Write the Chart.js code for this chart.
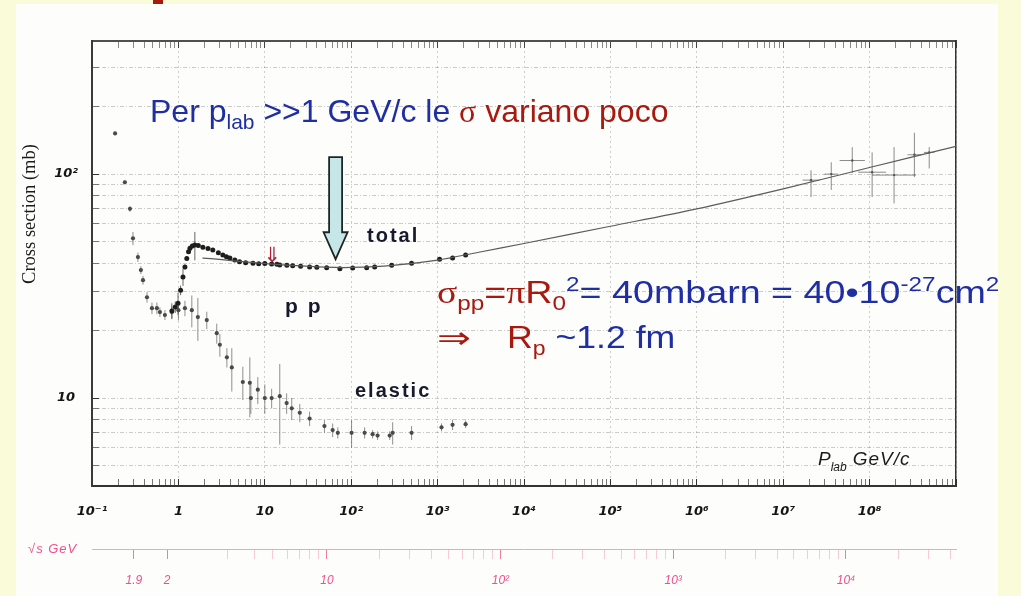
<!DOCTYPE html>
<html>
<head>
<meta charset="utf-8">
<script src="https://cdn.jsdelivr.net/npm/chart.js@4.4.1/dist/chart.umd.min.js"></script>
<style>
  html, body { margin: 0; padding: 0; width: 1021px; height: 596px; overflow: hidden; background: #f9fbd9; }
  #panel { position: absolute; left: 16px; top: 4px; width: 982px; height: 592px; background: #fdfdfb; }
  #tab { position: absolute; left: 153px; top: 0; width: 10px; height: 4px; background: #a8190f; }
  #wrap { position: absolute; left: 0; top: 0; width: 1021px; height: 596px; }
  svg { position: absolute; left: 0; top: 0; }
  svg text { white-space: pre; }
</style>
</head>
<body>
<div id="panel"></div>
<div id="tab"></div>
<div id="wrap"><canvas id="c" width="1021" height="596"></canvas></div>

<svg width="1021" height="596" font-family="Liberation Sans, Arial, sans-serif">
  <!-- headline -->
  <text x="150" y="122" font-size="32" fill="#1f2ea3">Per p<tspan font-size="21" dy="7">lab</tspan><tspan dy="-7"> &gt;&gt;1 GeV/c le </tspan><tspan fill="#a8190f" font-family="Liberation Serif">σ</tspan><tspan fill="#a8190f"> variano poco</tspan></text>

  <!-- proton size estimate -->
  <g transform="translate(437,303) scale(1.215,1)">
    <text x="0" y="0" font-size="31" fill="#1f2ea3"><tspan fill="#a8190f" font-family="Liberation Serif">σ</tspan><tspan fill="#a8190f" font-size="20" dy="7">pp</tspan><tspan fill="#a8190f" dy="-7">=</tspan><tspan fill="#a8190f" font-family="Liberation Serif">π</tspan><tspan fill="#a8190f">R</tspan><tspan fill="#a8190f" font-size="20" dy="7">0</tspan><tspan font-size="20" dy="-19">2</tspan><tspan dy="12">= 40mbarn = 40•10</tspan><tspan font-size="20" dy="-12">-27</tspan><tspan dy="12">cm</tspan><tspan font-size="20" dy="-12">2</tspan></text>
  </g>
  <g transform="translate(437,348) scale(1.35,1)">
    <text x="0" y="0" font-size="30" font-family="DejaVu Sans" fill="#a8190f">⇒</text>
  </g>
  <g transform="translate(507,348) scale(1.15,1)">
    <text x="0" y="0" font-size="31" fill="#1f2ea3"><tspan fill="#a8190f">R</tspan><tspan fill="#a8190f" font-size="20" dy="7">p</tspan><tspan dy="-7"> ~1.2 fm</tspan></text>
  </g>

  <!-- curve labels -->
  <text x="367" y="242" font-size="20" font-weight="bold" letter-spacing="2" fill="#171a2c">total</text>
  <text x="285" y="313" font-size="21" font-weight="bold" letter-spacing="2" fill="#171a2c">p p</text>
  <text x="355" y="397" font-size="20" font-weight="bold" letter-spacing="2" fill="#171a2c">elastic</text>
  <text x="272" y="262" font-size="21" text-anchor="middle" font-family="DejaVu Sans" fill="#b0203a">⇓</text>

  <!-- axis captions -->
  <text x="818" y="465" font-size="19" font-style="italic" fill="#1a1a1a">P<tspan font-size="12" dy="6">lab</tspan><tspan dy="-6" dx="6" letter-spacing="1">GeV/c</tspan></text>
  <text transform="translate(35,214) rotate(-90)" text-anchor="middle" font-family="Liberation Serif" font-size="18.5" fill="#1a1a1a">Cross section (mb)</text>
  <text x="28" y="553" font-size="13" font-style="italic" letter-spacing="1" fill="#f0508a">√s GeV</text>
</svg>

<script>
// ---- total cross section, accelerator data (p_lab in GeV/c, sigma in mb) ----
const totalP     = [0.84, 0.92, 0.99, 1.06, 1.13, 1.19, 1.25, 1.31, 1.36, 1.45, 1.55, 1.7, 1.92, 2.2, 2.5, 2.9, 3.27, 3.6, 3.94, 4.5, 5.1, 6.0, 7.3, 8.5, 10, 12, 13.8, 14.9, 18, 21, 26, 33, 40, 52, 74, 104, 151, 187, 294, 500, 1054, 1490, 2110];
const totalSigma = [24.5, 25.5, 26.5, 30.3, 34.7, 38.5, 42.0, 45.0, 46.7, 47.8, 48.2, 48.0, 47.2, 46.5, 45.8, 44.6, 43.5, 42.8, 42.2, 41.4, 40.6, 40.2, 40.0, 39.8, 39.9, 39.7, 39.6, 39.3, 39.2, 39.0, 38.8, 38.5, 38.4, 38.2, 37.8, 38.1, 38.2, 38.5, 39.2, 40.0, 41.7, 42.2, 43.5];
const totalErr   = [2.0, 1.5, 3.0, 1.5, 3.0, 1.0, 1.0, 1.0, 1.0, 1.0, 7.0, 1.0, 0.8, 0.8, 0.6, 0.6, 0.5, 0.5, 0.5, 0.5, 0.5, 0.4, 0.4, 0.4, 0.4, 0.4, 0.4, 0.4, 0.4, 0.4, 0.4, 0.6, 0.4, 0.4, 0.5, 0.5, 0.8, 0.5, 0.5, 0.5, 0.5, 0.5, 0.6];

// ---- elastic cross section ----
const elasticP     = [0.185, 0.24, 0.275, 0.298, 0.340, 0.368, 0.389, 0.433, 0.494, 0.564, 0.611, 0.698, 0.841, 1.0, 1.19, 1.43, 1.68, 2.13, 2.78, 3.02, 3.64, 4.15, 5.57, 6.71, 6.9, 8.3, 10, 12, 14.9, 17.9, 20.5, 25.4, 33, 49, 61, 70, 101, 143, 177, 202, 279, 302, 500, 1110, 1490, 2110];
const elasticSigma = [152, 92, 70, 51.7, 42.6, 37.3, 33.6, 28.2, 25.2, 25.2, 24.2, 23.5, 24.2, 24.7, 25.2, 24.7, 23.0, 22.3, 19.5, 17.3, 15.2, 13.7, 11.8, 11.7, 10.0, 10.9, 10.0, 10.0, 10.2, 9.5, 9.0, 8.6, 8.1, 7.5, 7.2, 7.0, 7.0, 7.0, 6.9, 6.8, 6.8, 7.0, 7.0, 7.4, 7.6, 7.65];
const elasticErr   = [1.5, 2.0, 2.0, 3.5, 2.0, 1.5, 1.5, 1.5, 1.5, 1.5, 1.2, 1.2, 1.5, 2.5, 2.0, 4.0, 5.0, 2.0, 2.0, 2.0, 1.5, 3.0, 2.0, 3.5, 1.5, 1.5, 1.5, 1.0, 4.0, 1.0, 1.0, 0.8, 0.6, 0.5, 0.5, 0.4, 1.0, 0.4, 0.3, 0.3, 0.3, 0.8, 0.5, 0.3, 0.4, 0.3];

// ---- cosmic-ray estimates of the total cross section ----
const cosmicP      = [2.1e7, 3.6e7, 6.3e7, 1.07e8, 1.92e8, 3.3e8, 4.9e8];
const cosmicSigma  = [94, 100, 115, 102, 99, 122, 125];
const cosmicErrLo  = [15, 15, 14, 23, 25, 25, 19];
const cosmicErrHi  = [10, 13, 17, 23, 33, 31, 7];
const cosmicXFactor = [1.25, 1.2, 1.4, 1.45, 1.8, 1.2, 1.15];

// ---- fit to the total cross section ----
const fitP     = [1.9, 3, 5, 10, 20, 50, 100, 300, 1000, 3000, 1e4, 1e5, 1e6, 1e7, 1e8, 1e9];
const fitSigma = [42.2, 41.6, 40.8, 39.9, 39.1, 38.4, 38.3, 39.1, 41.3, 44.8, 49, 58.5, 70, 86, 107, 133];

// ---- axis labels ----
const xMajorValues = [0.1, 1, 10, 100, 1e3, 1e4, 1e5, 1e6, 1e7, 1e8];
const xMajorLabels = ['10⁻¹', '1', '10', '10²', '10³', '10⁴', '10⁵', '10⁶', '10⁷', '10⁸'];
const yMajorValues = [10, 100];
const yMajorLabels = ['10', '10²'];
const sqrtsLabelValues = [1.9, 2, 10, 100, 1000, 10000];
const sqrtsLabels      = ['1.9', '2', '10', '10²', '10³', '10⁴'];

// ---- arrow marking the flat region ----
const arrowP = 66, arrowTipSigma = 41.7, arrowHeadSigma = 55, arrowTailSigma = 119;

const P_MIN = 0.1, P_MAX = 1e9, S_MIN = 4.05, S_MAX = 393;
const M_P = 0.938; // proton mass, GeV

// beam momentum on a fixed target that gives centre-of-mass energy rs
function pFromSqrtS(rs) {
  const E = (rs * rs - 2 * M_P * M_P) / (2 * M_P);
  return Math.sqrt(E * E - M_P * M_P);
}
function logTicks(lo, hi, mantissas) {
  const out = [];
  for (let e = Math.floor(Math.log10(lo)); e <= Math.ceil(Math.log10(hi)); e++) {
    for (const m of mantissas) {
      const v = m * Math.pow(10, e);
      if (v >= lo * (1 - 1e-9) && v <= hi * (1 + 1e-9)) out.push(v);
    }
  }
  return out;
}
const near = (a, b) => Math.abs(a / b - 1) < 1e-6;
const labelAt = (v, vals, labels) => { const k = vals.findIndex(m => near(v, m)); return k < 0 ? '' : labels[k]; };
const isDecade = v => Math.abs(Math.log10(v) - Math.round(Math.log10(v))) < 1e-6;

const ONE_TO_NINE = [1, 2, 3, 4, 5, 6, 7, 8, 9];
const xTickValues = logTicks(P_MIN, P_MAX, ONE_TO_NINE);
const yTickValues = logTicks(S_MIN, S_MAX, ONE_TO_NINE);
const sqrtsTickValues = [1.9].concat(logTicks(2, 1e5, ONE_TO_NINE).filter(rs => pFromSqrtS(rs) <= P_MAX));

const pts = (xs, ys) => xs.map((x, i) => ({ x, y: ys[i] }));
const tickFont = { family: 'DejaVu Sans', size: 13, weight: 'bold', style: 'italic' };

// vertical (and optional horizontal) error bars drawn through the chart scales
const errorBars = {
  id: 'errorBars',
  beforeDatasetsDraw(chart) {
    const { ctx, chartArea, scales: { x, y } } = chart;
    ctx.save();
    ctx.beginPath();
    ctx.rect(chartArea.left, chartArea.top, chartArea.right - chartArea.left, chartArea.bottom - chartArea.top);
    ctx.clip();
    chart.data.datasets.forEach(ds => {
      if (!ds.errLo) return;
      ctx.strokeStyle = ds.errColor;
      ctx.lineWidth = 1;
      ds.data.forEach((pt, i) => {
        const px = x.getPixelForValue(pt.x);
        const py = y.getPixelForValue(pt.y);
        ctx.beginPath();
        ctx.moveTo(px, y.getPixelForValue(pt.y - ds.errLo[i]));
        ctx.lineTo(px, y.getPixelForValue(pt.y + ds.errHi[i]));
        if (ds.xFactor) {
          ctx.moveTo(x.getPixelForValue(pt.x / ds.xFactor[i]), py);
          ctx.lineTo(x.getPixelForValue(pt.x * ds.xFactor[i]), py);
        }
        ctx.stroke();
      });
    });
    ctx.restore();
  }
};

// hollow pointer arrow placed in data coordinates
const pointerArrow = {
  id: 'pointerArrow',
  afterDatasetsDraw(chart) {
    const { ctx, scales: { x, y } } = chart;
    const cx = x.getPixelForValue(arrowP);
    const tip = y.getPixelForValue(arrowTipSigma);
    const head = y.getPixelForValue(arrowHeadSigma);
    const tail = y.getPixelForValue(arrowTailSigma);
    const hs = 6.5, hh = 12;
    ctx.save();
    ctx.beginPath();
    ctx.moveTo(cx - hs, tail);
    ctx.lineTo(cx + hs, tail);
    ctx.lineTo(cx + hs, head);
    ctx.lineTo(cx + hh, head);
    ctx.lineTo(cx, tip);
    ctx.lineTo(cx - hh, head);
    ctx.lineTo(cx - hs, head);
    ctx.closePath();
    ctx.fillStyle = '#c7e6e7';
    ctx.fill();
    ctx.lineWidth = 1.8;
    ctx.strokeStyle = '#1c2626';
    ctx.lineJoin = 'miter';
    ctx.stroke();
    ctx.restore();
  }
};

new Chart(document.getElementById('c'), {
  data: {
    datasets: [
      {
        type: 'line', label: 'fit', data: pts(fitP, fitSigma),
        borderColor: '#5c5c5c', borderWidth: 1.2, pointRadius: 0, tension: 0.3, fill: false
      },
      {
        type: 'scatter', label: 'total', data: pts(totalP, totalSigma),
        backgroundColor: '#1e1e1e', borderWidth: 0, pointRadius: 2.5,
        errLo: totalErr, errHi: totalErr, errColor: 'rgba(40,40,40,0.7)'
      },
      {
        type: 'scatter', label: 'elastic', data: pts(elasticP, elasticSigma),
        backgroundColor: '#4a4a4a', borderWidth: 0, pointRadius: 2.1,
        errLo: elasticErr, errHi: elasticErr, errColor: 'rgba(70,70,70,0.6)'
      },
      {
        type: 'scatter', label: 'cosmic', data: pts(cosmicP, cosmicSigma),
        backgroundColor: '#555', borderWidth: 0, pointRadius: 1.2,
        errLo: cosmicErrLo, errHi: cosmicErrHi, xFactor: cosmicXFactor, errColor: 'rgba(80,80,80,0.65)'
      }
    ]
  },
  options: {
    responsive: false,
    animation: false,
    events: [],
    layout: { padding: 0 },
    plugins: { legend: { display: false }, tooltip: { enabled: false } },
    scales: {
      x: {
        type: 'logarithmic', position: 'bottom', weight: 0, min: P_MIN, max: P_MAX,
        afterBuildTicks: s => { s.ticks = xTickValues.map(value => ({ value })); },
        afterFit: s => { s.height = 63; },
        ticks: {
          autoSkip: false, maxRotation: 0, minRotation: 0, padding: 25, color: '#151515', font: tickFont,
          callback: v => labelAt(v, xMajorValues, xMajorLabels)
        },
        grid: {
          color: c => isDecade(c.tick.value) ? 'rgba(130,130,130,0.38)' : 'rgba(0,0,0,0)',
          lineWidth: 1, tickLength: -7, tickWidth: 1,
          tickColor: c => isDecade(c.tick.value) ? '#333' : '#777'
        },
        border: { display: true, color: '#333', width: 2, dash: [2, 3] }
      },
      x2: {
        type: 'logarithmic', position: 'bottom', weight: 1, min: P_MIN, max: P_MAX,
        afterBuildTicks: s => { s.ticks = sqrtsTickValues.map(rs => ({ value: pFromSqrtS(rs) })); },
        afterFit: s => { s.height = 47; },
        ticks: {
          autoSkip: false, maxRotation: 0, minRotation: 0, padding: 14, color: '#f0508a',
          font: { family: 'Liberation Sans', size: 12, style: 'italic' },
          callback: (v, i) => labelAt(sqrtsTickValues[i], sqrtsLabelValues, sqrtsLabels)
        },
        grid: {
          drawOnChartArea: false, tickLength: 10, tickWidth: 1,
          tickColor: c => labelAt(sqrtsTickValues[c.index], sqrtsLabelValues, sqrtsLabels) ? '#ef7d9c' : 'rgba(240,140,165,0.45)'
        },
        border: { display: true, color: '#f5a3ba', width: 1 }
      },
      xt: {
        type: 'logarithmic', position: 'top', min: P_MIN, max: P_MAX,
        afterBuildTicks: s => { s.ticks = xTickValues.map(value => ({ value })); },
        afterFit: s => { s.height = 41; },
        ticks: { display: false },
        grid: {
          drawOnChartArea: false, tickLength: -7, tickWidth: 1,
          tickColor: c => isDecade(c.tick.value) ? '#444' : '#888'
        },
        border: { display: true, color: '#505050', width: 2 }
      },
      y: {
        type: 'logarithmic', position: 'left', min: S_MIN, max: S_MAX,
        afterBuildTicks: s => { s.ticks = yTickValues.map(value => ({ value })); },
        afterFit: s => { s.width = 92; },
        ticks: {
          autoSkip: false, padding: 21, crossAlign: 'center', color: '#151515',
          font: { family: 'DejaVu Sans', size: 13, weight: 'bold', style: 'italic' },
          callback: v => labelAt(v, yMajorValues, yMajorLabels)
        },
        grid: {
          color: 'rgba(110,110,110,0.35)', lineWidth: 1, tickLength: -7, tickWidth: 1,
          tickColor: c => isDecade(c.tick.value) ? '#333' : '#777'
        },
        border: { display: true, color: '#3a3a3a', width: 2, dash: [4, 2, 1, 2] }
      },
      yr: {
        type: 'logarithmic', position: 'right', min: S_MIN, max: S_MAX,
        afterFit: s => { s.width = 65; },
        ticks: { display: false },
        grid: { drawOnChartArea: false, drawTicks: false },
        border: { display: true, color: '#333', width: 1.5 }
      }
    }
  },
  plugins: [errorBars, pointerArrow]
});
</script>
</body>
</html>
